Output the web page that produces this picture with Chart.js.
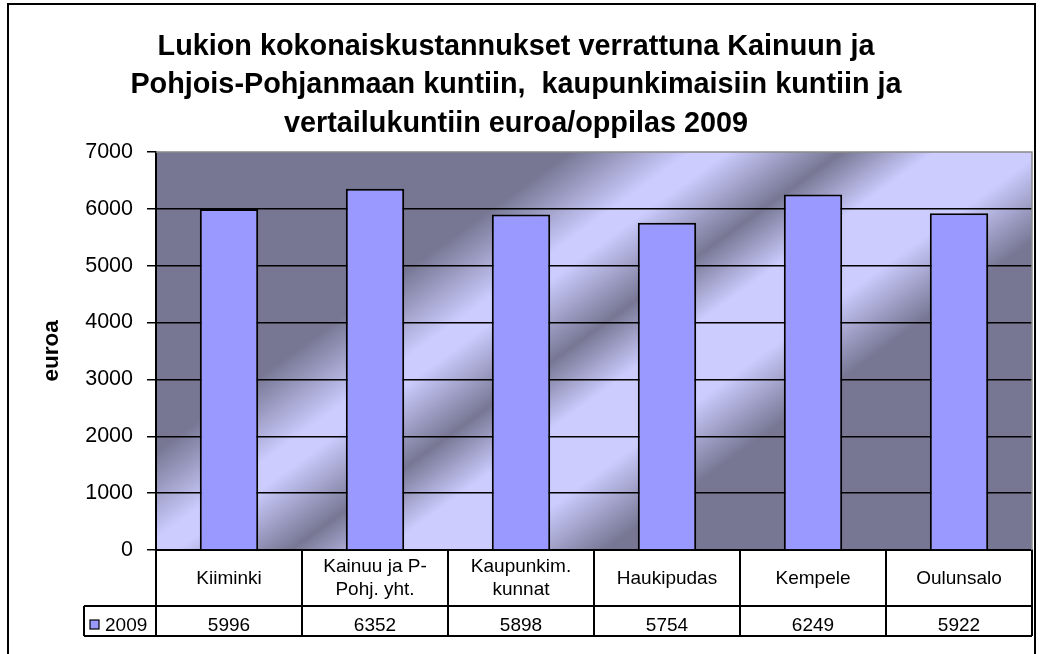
<!DOCTYPE html>
<html>
<head>
<meta charset="utf-8">
<script src="https://cdn.jsdelivr.net/npm/chart.js@4.4.1/dist/chart.umd.min.js"></script>
<style>
  html, body { margin: 0; padding: 0; background: #ffffff; }
  #wrap { width: 1041px; height: 654px; position: relative; }
  canvas { display: block; }
</style>
</head>
<body>
<div id="wrap"><canvas id="chart" width="1041" height="654"></canvas></div>
<script>
// ---- data ----
const categories = [["Kiiminki"], ["Kainuu ja P-", "Pohj. yht."], ["Kaupunkim.", "kunnat"], ["Haukipudas"], ["Kempele"], ["Oulunsalo"]];
const seriesName = "2009";
const values2009 = [5996, 6352, 5898, 5754, 6249, 5922];
const yTickValues = [0, 1000, 2000, 3000, 4000, 5000, 6000, 7000];
const titleLines = [
  "Lukion kokonaiskustannukset verrattuna Kainuun ja",
  "Pohjois-Pohjanmaan kuntiin,  kaupunkimaisiin kuntiin ja",
  "vertailukuntiin euroa/oppilas 2009"
];
const yAxisTitle = "euroa";

const FONT = '"Liberation Sans", Arial, sans-serif';
const BAR_COLOR = '#9999FF';
const DARK = '#777794';
const LIGHT = '#CCCCFF';

// ---- plot-area gradient background ----
const bgPlugin = {
  id: 'bgGradient',
  beforeDraw(chart) {
    const { ctx, chartArea: a } = chart;
    ctx.save();
    ctx.fillStyle = '#ffffff';
    ctx.fillRect(0, 0, chart.width, chart.height);
    const dx = 0.586, dy = 0.811;
    const len = (a.right - a.left) * dx + (a.bottom - a.top) * dy;
    const g = ctx.createLinearGradient(a.left, a.top, a.left + dx * len, a.top + dy * len);
    g.addColorStop(0.00, DARK);
    g.addColorStop(0.29, DARK);
    g.addColorStop(0.375, LIGHT);
    g.addColorStop(0.40, LIGHT);
    g.addColorStop(0.48, DARK);
    g.addColorStop(0.545, LIGHT);
    g.addColorStop(0.62, LIGHT);
    g.addColorStop(0.70, DARK);
    g.addColorStop(1.00, DARK);
    ctx.fillStyle = g;
    ctx.fillRect(a.left, a.top, a.right - a.left, a.bottom - a.top);
    ctx.restore();
  }
};

// ---- data table, legend cell, borders ----
const tablePlugin = {
  id: 'dataTable',
  afterDraw(chart) {
    const { ctx, chartArea: a } = chart;
    const xs = chart.scales.x;
    const n = categories.length;
    const colW = (a.right - a.left) / n;
    const rowTop = a.bottom;
    const rowMid = a.bottom + 56;
    const rowBot = xs.bottom;
    const legLeft = 84;
    ctx.save();
    // plot area border (grey)
    ctx.strokeStyle = '#8a8a8a';
    ctx.lineWidth = 1.5;
    ctx.beginPath();
    ctx.moveTo(a.left, a.top);
    ctx.lineTo(a.right, a.top);
    ctx.lineTo(a.right, a.bottom);
    ctx.stroke();

    // table grid
    ctx.strokeStyle = '#000000';
    ctx.lineWidth = 2;
    ctx.beginPath();
    ctx.moveTo(legLeft, rowMid); ctx.lineTo(a.right, rowMid);
    ctx.moveTo(legLeft, rowBot); ctx.lineTo(a.right, rowBot);
    ctx.moveTo(legLeft, rowMid); ctx.lineTo(legLeft, rowBot);
    for (let i = 0; i <= n; i++) {
      const xb = (i < n) ? xs.getPixelForValue(i) - colW / 2 : xs.getPixelForValue(n - 1) + colW / 2;
      ctx.moveTo(xb, rowTop); ctx.lineTo(xb, rowBot);
    }
    ctx.stroke();

    // values row
    ctx.fillStyle = '#000000';
    ctx.font = '19px ' + FONT;
    ctx.textAlign = 'center';
    ctx.textBaseline = 'middle';
    const vy = (rowMid + rowBot) / 2 + 5;
    values2009.forEach((v, i) => {
      ctx.fillText(String(v), xs.getPixelForValue(i), vy);
    });

    // legend key
    ctx.fillStyle = BAR_COLOR;
    ctx.fillRect(90, vy - 6, 9, 9);
    ctx.strokeStyle = '#000000';
    ctx.lineWidth = 1.2;
    ctx.strokeRect(90, vy - 6, 9, 9);
    ctx.fillStyle = '#000000';
    ctx.textAlign = 'left';
    ctx.fillText(seriesName, 105, vy);

    // outer chart border
    ctx.strokeStyle = '#000000';
    ctx.lineWidth = 2;
    ctx.strokeRect(8, 4, 1027, 700);
    ctx.restore();
  }
};

const ctx = document.getElementById('chart').getContext('2d');
new Chart(ctx, {
  type: 'bar',
  data: {
    labels: categories,
    datasets: [{
      label: seriesName,
      data: values2009,
      backgroundColor: BAR_COLOR,
      borderColor: '#000000',
      borderWidth: 2,
      borderSkipped: 'start',
      barPercentage: 0.4,
      categoryPercentage: 1.0
    }]
  },
  options: {
    responsive: false,
    devicePixelRatio: 1,
    animation: false,
    layout: { padding: { left: 0, right: 9, top: 0, bottom: 18 } },
    plugins: {
      legend: { display: false },
      tooltip: { enabled: false },
      title: {
        display: true,
        text: titleLines,
        color: '#000000',
        font: { family: FONT, size: 28.8, weight: 'bold', lineHeight: 38.3 / 28.8 },
        padding: { top: 28, bottom: 9 }
      }
    },
    scales: {
      x: {
        type: 'category',
        position: 'bottom',
        grid: { display: false },
        border: { display: true, color: '#000000', width: 2 },
        ticks: {
          color: '#000000',
          font: { family: FONT, size: 19, lineHeight: 22.6 / 19 },
          padding: 9,
          crossAlign: 'center',
          maxRotation: 0,
          minRotation: 0,
          autoSkip: false
        },
        afterFit(scale) { scale.height = 86; }
      },
      y: {
        type: 'linear',
        position: 'left',
        min: yTickValues[0],
        max: yTickValues[yTickValues.length - 1],
        afterBuildTicks(scale) { scale.ticks = yTickValues.map(v => ({ value: v })); },
        grid: {
          color: (c) => (c.tick && c.tick.value === yTickValues[yTickValues.length - 1]) ? 'rgba(0,0,0,0)' : '#000000',
          lineWidth: 1.5,
          tickLength: 9,
          tickColor: '#000000',
          drawTicks: true
        },
        border: { display: true, color: '#000000', width: 2 },
        ticks: {
          color: '#000000',
          font: { family: FONT, size: 21.5 },
          padding: 14,
          callback: (v) => String(v)
        },
        title: {
          display: true,
          text: yAxisTitle,
          color: '#000000',
          font: { family: FONT, size: 22.5, weight: 'bold' },
          padding: { top: 38.5, bottom: 0 }
        },
        afterFit(scale) { scale.width = 156; }
      }
    }
  },
  plugins: [bgPlugin, tablePlugin]
});
</script>
</body>
</html>
